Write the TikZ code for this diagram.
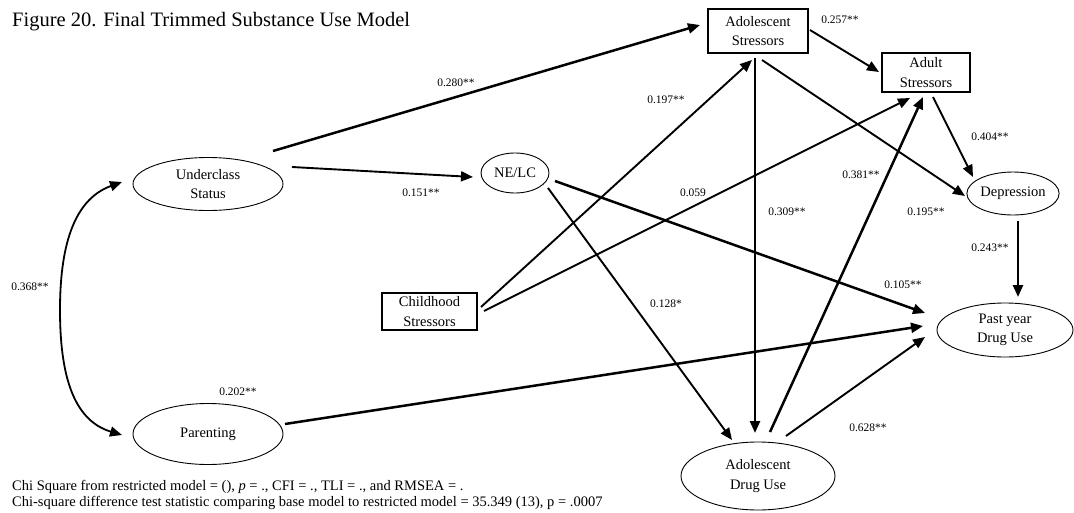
\documentclass[tikz,border=0pt]{standalone}
\usepackage{fontspec}
\setmainfont{Liberation Serif}
\usetikzlibrary{shapes.geometric,arrows.meta}
\begin{document}
\begin{tikzpicture}[x=1pt,y=-1pt,
  txt/.style={font=\fontsize{14.5}{19.5}\selectfont, align=center},
  latent/.style={txt, ellipse, draw, line width=0.9pt, inner sep=0pt},
  observed/.style={txt, rectangle, draw, line width=2pt, inner sep=0pt},
  path/.style={line width=1.9pt, -{Triangle[length=12pt,width=10pt]}},
  heavy/.style={path, line width=2.5pt},
  coef/.style={font=\fontsize{11.5}{13}\selectfont, inner sep=0pt},
  note/.style={anchor=west, inner sep=0pt, font=\fontsize{14.5}{16}\selectfont},
]
\useasboundingbox (0,0) rectangle (1074,512);

% title and fit notes
\node[anchor=west, inner sep=0pt, font=\fontsize{20.5}{24}\selectfont] (title) at (12,22)
  {Figure 20. Final Trimmed Substance Use Model};
\node[note] (fit1) at (12,487)
  {Chi Square from restricted model = (), \textit{p} = ., CFI = ., TLI = ., and RMSEA = .};
\node[note] (fit2) at (12,503)
  {Chi-square difference test statistic comparing base model to restricted model = 35.349 (13), p = .0007};

% variables
\node[latent, minimum width=150pt, minimum height=53pt] (US) at (208,184) {Underclass\\Status};
\node[latent, minimum width=150pt, minimum height=61pt] (PA) at (208,434) {Parenting};
\node[latent, minimum width=68pt, minimum height=40pt] (NE) at (515,173) {NE/LC};
\node[observed, minimum width=95pt, minimum height=37pt] (CS) at (429.5,311.5) {Childhood\\Stressors};
\node[observed, minimum width=100pt, minimum height=44pt] (AS) at (758,31) {Adolescent\\Stressors};
\node[observed, minimum width=88pt, minimum height=39pt] (ADS) at (926,72.5) {Adult\\Stressors};
\node[latent, minimum width=88pt, minimum height=43pt] (DE) at (1013,193.5) {Depression};
\node[latent, minimum width=136pt, minimum height=54pt] (PY) at (1005,330) {Past year\\Drug Use};
\node[latent, minimum width=154pt, minimum height=68pt] (AD) at (758,476) {Adolescent\\Drug Use};

% paths
\draw[heavy] ([shift={(65,-33)}]US.center) -- ([shift={(-58,-6)}]AS.center);
\draw[path]  ([shift={(84,-17)}]US.center) -- ([shift={(-42,4)}]NE.center);
\draw[line width=1.8pt, {Triangle[length=12pt,width=10pt]}-{Triangle[length=12pt,width=10pt]}]
  ([shift={(-86,-2)}]US.center) .. controls (72,200) and (60,250) .. (60,310)
  .. controls (60,372) and (72,420) .. ([shift={(-86,1)}]PA.center);
\draw[path]  ([shift={(51.5,-4.5)}]CS.center) -- ([shift={(-6,29)}]AS.center);
\draw[path]  ([shift={(54.5,-0.5)}]CS.center) -- ([shift={(-16,25.5)}]ADS.center);
\draw[heavy] ([shift={(40,8)}]NE.center) -- ([shift={(-80,-17)}]PY.center);
\draw[path]  ([shift={(33,15)}]NE.center) -- ([shift={(-26,-36)}]AD.center);
\draw[heavy] ([shift={(-3,27)}]AS.center) -- ([shift={(-3,-43)}]AD.center);
\draw[path]  ([shift={(52,-1)}]AS.center) -- ([shift={(-47,-0.5)}]ADS.center);
\draw[path]  ([shift={(4,29)}]AS.center) -- ([shift={(-48,2.5)}]DE.center);
\draw[path]  ([shift={(7,24.5)}]ADS.center) -- ([shift={(-40,-16.5)}]DE.center);
\draw[heavy] ([shift={(5,27.5)}]DE.center) -- ([shift={(13,-33)}]PY.center);
\draw[heavy] ([shift={(77,-10)}]PA.center) -- ([shift={(-82,-4)}]PY.center);
\draw[path]  ([shift={(28,-40)}]AD.center) -- ([shift={(-80,7)}]PY.center);
\draw[heavy] ([shift={(12,-44)}]AD.center) -- ([shift={(-3,24.5)}]ADS.center);

% coefficients
\node[coef] (c1)  at (456,83)  {0.280**};
\node[coef] (c2)  at (421,193) {0.151**};
\node[coef] (c3)  at (30,287)  {0.368**};
\node[coef] (c4)  at (666,100) {0.197**};
\node[coef] (c5)  at (693,193) {0.059};
\node[coef] (c6)  at (666,304) {0.128*};
\node[coef] (c7)  at (787,212) {0.309**};
\node[coef] (c8)  at (861,175) {0.381**};
\node[coef] (c9)  at (926,212) {0.195**};
\node[coef] (c10) at (990,137) {0.404**};
\node[coef] (c11) at (990,248) {0.243**};
\node[coef] (c12) at (903,285) {0.105**};
\node[coef] (c13) at (840,20)  {0.257**};
\node[coef] (c14) at (238,392) {0.202**};
\node[coef] (c15) at (868,428) {0.628**};
\end{tikzpicture}
\end{document}
